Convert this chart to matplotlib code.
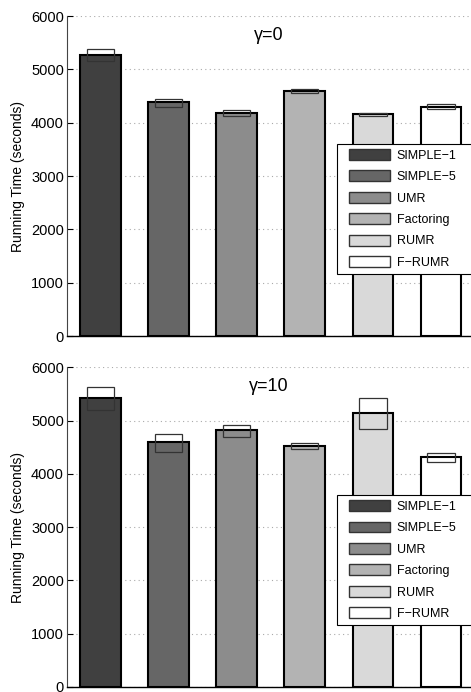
import matplotlib
matplotlib.use("Agg")
import matplotlib.pyplot as plt
from matplotlib.legend_handler import HandlerPatch
from matplotlib.patches import Patch

plt.rcParams['font.family'] = ['Liberation Sans', 'DejaVu Sans']

methods = ["SIMPLE\u22121", "SIMPLE\u22125", "UMR", "Factoring", "RUMR", "F\u2212RUMR"]
colors = ["#404040", "#666666", "#8c8c8c", "#b3b3b3", "#d9d9d9", "#ffffff"]

panel_titles = ["\u03b3=0", "\u03b3=10"]
means_g0 = [5270, 4390, 4175, 4600, 4157, 4300]
lo_g0 = [5165, 4300, 4125, 4562, 4125, 4250]
hi_g0 = [5380, 4450, 4238, 4637, 4187, 4356]

means_g10 = [5415, 4594, 4819, 4531, 5138, 4325]
lo_g10 = [5205, 4419, 4700, 4469, 4844, 4231]
hi_g10 = [5630, 4756, 4925, 4588, 5419, 4400]

yticks = [0, 1000, 2000, 3000, 4000, 5000, 6000]

W, H = 471, 692
fig = plt.figure(figsize=(W / 100, H / 100), dpi=100)

def px_axes(left, top, right, bottom):
    return fig.add_axes([left / W, 1 - bottom / H, (right - left) / W, (bottom - top) / H])

ax_top = px_axes(66.7, 16, 475, 336)
ax_bot = px_axes(66.7, 367.3, 475, 687)

panels = [(ax_top, panel_titles[0], means_g0, lo_g0, hi_g0),
          (ax_bot, panel_titles[1], means_g10, lo_g10, hi_g10)]

x = list(range(1, len(methods) + 1))
for ax, title, means, lo, hi in panels:
    ax.set_axisbelow(True)
    ax.yaxis.grid(True, linestyle=(0, (1, 3)), color="#aaaaaa", linewidth=0.8)
    ax.bar(x, means, width=0.6, color=colors, edgecolor="black", linewidth=1.5, zorder=2)
    ax.bar(x, [h - l for h, l in zip(hi, lo)], bottom=lo, width=0.4, fill=False,
           edgecolor="#333333", linewidth=0.9, zorder=3)
    ax.set_xlim(0.5, 6.5)
    ax.set_ylim(0, 6000)
    ax.set_yticks(yticks)
    ax.set_xticks([])
    ax.tick_params(axis='y', direction='in', length=4, labelsize=10.5, pad=2)
    for s in ['top', 'right']:
        ax.spines[s].set_visible(False)
    ax.spines['left'].set_linewidth(0.8)
    ax.spines['left'].set_color('#444444')
    ax.spines['bottom'].set_linewidth(1.0)
    ax.set_ylabel("Running Time (seconds)", fontsize=10, labelpad=4)
    ax.text(0.495, 0.94, title, transform=ax.transAxes, ha='center', va='center', fontsize=13)
    handles = [Patch(facecolor=c, edgecolor='#333333', linewidth=1.0) for c in colors]
    leg = ax.legend(handles, methods, loc='upper left', bbox_to_anchor=(0.661, 0.2, 0.36, 0.4),
                    mode='expand',
                    borderaxespad=0, fancybox=False, framealpha=1, edgecolor='black',
                    fontsize=9, handlelength=3.9, handleheight=0.95, labelspacing=0.7,
                    handletextpad=0.5, borderpad=0.4,
                    handler_map={Patch: HandlerPatch(xpad=0.6)})
    leg.get_frame().set_linewidth(0.8)
    leg.set_zorder(5)

fig.savefig("out.png", dpi=100)
